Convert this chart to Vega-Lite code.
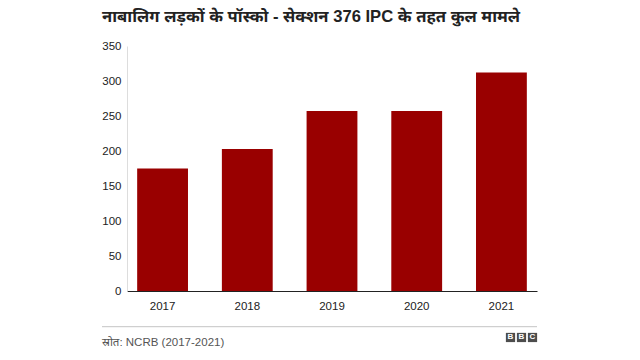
{
  "$schema": "https://vega.github.io/schema/vega-lite/v6.json",
  "width": 410,
  "height": 245,
  "autosize": {"type": "none"},
  "padding": {"left": 127, "top": 46, "right": 103, "bottom": 69},
  "background": "white",
  "config": {
    "view": {"stroke": null},
    "font": "Liberation Sans",
    "axis": {"labelFont": "Liberation Sans", "labelColor": "#222222", "labelFontSize": 11.5, "labelOverlap": false, "ticks": false, "grid": false, "title": null},
    "axisY": {"values": [0, 50, 100, 150, 200, 250, 300, 350], "domainColor": "#dddddd", "labelPadding": 6}
  },
  "title": {
    "text": "नाबालिग लड़कों के पॉस्को - सेक्शन 376 IPC के तहत कुल मामले",
    "anchor": "start",
    "frame": "group",
    "dx": -25,
    "fontSize": 16.6,
    "fontWeight": "bold",
    "font": "Liberation Sans, Noto Sans",
    "color": "#222222",
    "offset": 14
  },
  "resolve": {"scale": {"x": "independent"}},
  "layer": [
    {
      "data": {"values": [
        {"year": "2017", "cases": 175},
        {"year": "2018", "cases": 203},
        {"year": "2019", "cases": 257},
        {"year": "2020", "cases": 257},
        {"year": "2021", "cases": 312}
      ]},
      "mark": {"type": "bar", "color": "#990000"},
      "encoding": {
        "x": {
          "field": "year", "type": "ordinal",
          "scale": {"paddingInner": 0.4, "paddingOuter": 0.12},
          "axis": {"title": null, "labelAngle": 0, "ticks": false, "domainColor": "#222222", "labelPadding": 9, "labelColor": "#222222"}
        },
        "y": {
          "field": "cases", "type": "quantitative",
          "scale": {"domain": [0, 350]},
          "axis": {"title": null, "values": [0, 50, 100, 150, 200, 250, 300, 350], "labelOverlap": false, "ticks": false, "grid": false, "domainColor": "#dddddd", "labelPadding": 6, "labelColor": "#222222", "tickCount": 8}
        }
      }
    },
    {
      "data": {"values": [{"source": "स्रोत: NCRB (2017-2021)"}]},
      "layer": [
        {
          "mark": {"type": "rule", "color": "#c4c4c4", "strokeWidth": 1},
          "encoding": {
            "x": {"datum": -25, "type": "quantitative", "scale": {"domain": [0, 410], "nice": false, "zero": false}, "axis": null},
            "x2": {"datum": 410},
            "y": {"datum": -51, "type": "quantitative", "scale": {"domain": [0, 350]}, "axis": {"title": null, "values": [0, 50, 100, 150, 200, 250, 300, 350], "labelOverlap": false, "ticks": false, "grid": false, "domainColor": "#dddddd", "labelPadding": 6, "labelColor": "#222222", "tickCount": 8}}
          }
        },
        {
          "mark": {"type": "text", "align": "left", "baseline": "middle", "fontSize": 11.5, "color": "#555555", "font": "Liberation Sans, Noto Sans"},
          "encoding": {
            "x": {"datum": -25, "type": "quantitative", "scale": {"domain": [0, 410], "nice": false, "zero": false}, "axis": null},
            "y": {"datum": -74, "type": "quantitative", "scale": {"domain": [0, 350]}, "axis": {"title": null, "values": [0, 50, 100, 150, 200, 250, 300, 350], "labelOverlap": false, "ticks": false, "grid": false, "domainColor": "#dddddd", "labelPadding": 6, "labelColor": "#222222", "tickCount": 8}},
            "text": {"field": "source"}
          }
        }
      ]
    },
    {
      "data": {"values": [{"k": "B1", "t": "B"}, {"k": "B2", "t": "B"}, {"k": "C", "t": "C"}]},
      "encoding": {
        "x": {"field": "k", "type": "nominal", "scale": {"type": "point", "range": [383.5, 405.5], "padding": 0}, "axis": null},
        "y": {"datum": -66.4, "type": "quantitative", "scale": {"domain": [0, 350]}, "axis": {"title": null, "values": [0, 50, 100, 150, 200, 250, 300, 350], "labelOverlap": false, "ticks": false, "grid": false, "domainColor": "#dddddd", "labelPadding": 6, "labelColor": "#222222", "tickCount": 8}}
      },
      "layer": [
        {"mark": {"type": "point", "shape": "square", "filled": true, "opacity": 1, "size": 85, "color": "#4d4d4d"}},
        {"mark": {"type": "text", "color": "white", "fontWeight": "bold", "fontSize": 8, "baseline": "middle", "align": "center"}, "encoding": {"text": {"field": "t"}}}
      ]
    }
  ]
}
